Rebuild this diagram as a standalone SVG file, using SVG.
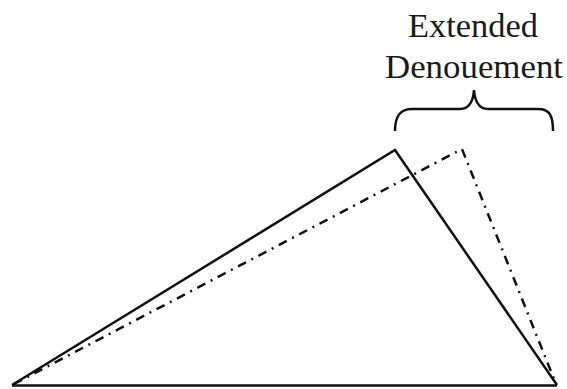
<svg xmlns="http://www.w3.org/2000/svg" width="567" height="389" viewBox="0 0 567 389">
<style>
.solid{fill:none;stroke:#111;stroke-width:2.5;stroke-linejoin:miter}
.dd{fill:none;stroke:#111;stroke-width:2.5;stroke-dasharray:9 6 2 6}
.lbl{font-family:"Liberation Serif","Times New Roman",serif;font-size:34px;fill:#1a1a1a;text-anchor:middle}
</style>
<rect width="567" height="389" fill="#fff"/>
<g id="connectors">
<polyline class="solid" points="12,385 395,150 557,385"/>
<line class="solid" x1="12" y1="385.5" x2="557" y2="385.5"/>
<polyline class="dd" points="14,384 462,149 556,384"/>
</g>
<g id="brace">
<path class="solid" stroke-width="2.2" d="M395,131 C395,116 400,109 412,109 L460,109 C468,109 473,103 474,90 C475,103 480,109 488,109 L538,109 C550,109 553,116 553,131"/>
</g>
<g id="label">
<text class="lbl" x="473" y="37" textLength="130" lengthAdjust="spacingAndGlyphs">Extended</text>
<text class="lbl" x="474" y="78" textLength="178" lengthAdjust="spacingAndGlyphs">Denouement</text>
</g>
</svg>
